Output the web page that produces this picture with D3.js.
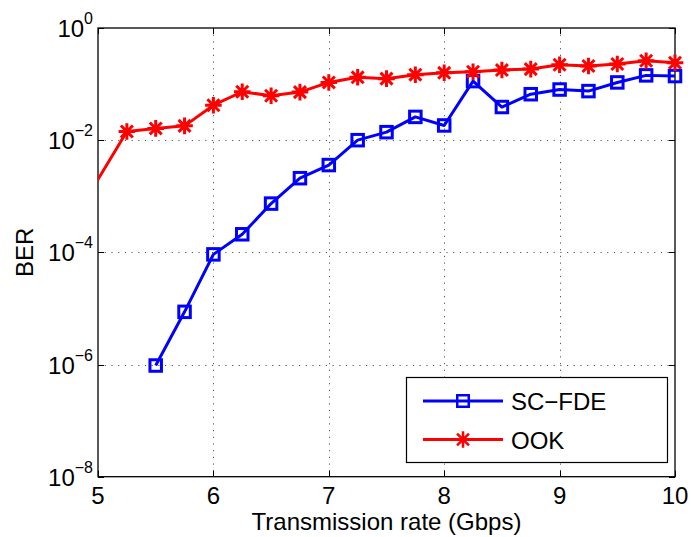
<!DOCTYPE html>
<html>
<head>
<meta charset="utf-8">
<script src="https://cdn.jsdelivr.net/npm/d3@7"></script>
<style>
  html, body { margin: 0; padding: 0; background: #fff; }
  svg { display: block; font-family: "Liberation Sans", Arial, Helvetica, sans-serif; }
</style>
</head>
<body>
<svg id="chart" width="691" height="537"></svg>
<script>
// ---- data ----
const xTicks = [5, 6, 7, 8, 9, 10];
const yTickExponents = [0, -2, -4, -6, -8];

const scfdeRate = [5.5, 5.75, 6, 6.25, 6.5, 6.75, 7, 7.25, 7.5, 7.75, 8, 8.25, 8.5, 8.75, 9, 9.25, 9.5, 9.75, 10];
const scfdeBER  = [9.6e-7, 8.7e-6, 9.2e-5, 2.1e-4, 7.4e-4, 2.1e-3, 3.6e-3, 1.0e-2, 1.39e-2, 2.6e-2, 1.83e-2, 0.113, 3.9e-2, 6.6e-2, 8.0e-2, 7.5e-2, 0.107, 0.143, 0.139];

const ookRate = [4.75, 5.25, 5.5, 5.75, 6, 6.25, 6.5, 6.75, 7, 7.25, 7.5, 7.75, 8, 8.25, 8.5, 8.75, 9, 9.25, 9.5, 9.75, 10];
const ookBER  = [2.8e-4, 1.43e-2, 1.62e-2, 1.8e-2, 4.2e-2, 7.3e-2, 6.2e-2, 7.2e-2, 0.107, 0.132, 0.125, 0.147, 0.159, 0.166, 0.178, 0.185, 0.221, 0.21, 0.228, 0.261, 0.24];

const seriesNames = ["SC\u2212FDE", "OOK"];
const xLabel = "Transmission rate (Gbps)";
const yLabel = "BER";

(function () {
// ---- layout ----
const pLeft = 98, pRight = 675, pTop = 28, pBottom = 476.7;
const svg = d3.select("#chart");
const x = d3.scaleLinear().domain([5, 10]).range([pLeft, pRight]);
const y = d3.scaleLog().domain([1e-8, 1]).range([pBottom, pTop]);

svg.append("rect").attr("x", 0).attr("y", 0).attr("width", 691).attr("height", 537).attr("fill", "#fff");

svg.append("defs").append("clipPath").attr("id", "plotclip")
  .append("rect").attr("x", pLeft).attr("y", pTop).attr("width", pRight - pLeft).attr("height", pBottom - pTop);

// grid
const grid = svg.append("g").attr("stroke", "#555").attr("stroke-width", 1).attr("stroke-dasharray", "1.2,5.5");
grid.selectAll(".gx").data(xTicks.filter(d => d > 5 && d < 10)).join("line")
  .attr("x1", d => Math.round(x(d)) + 0.5).attr("x2", d => Math.round(x(d)) + 0.5)
  .attr("y1", pTop).attr("y2", pBottom);
grid.selectAll(".gy").data(yTickExponents.filter(e => e < 0 && e > -8)).join("line")
  .attr("y1", e => Math.round(y(Math.pow(10, e))) + 0.5).attr("y2", e => Math.round(y(Math.pow(10, e))) + 0.5)
  .attr("x1", pLeft).attr("x2", pRight);

// ticks (inward, all sides)
const tickLen = 6;
const ticks = svg.append("g").attr("stroke", "#000").attr("stroke-width", 1);
xTicks.forEach(d => {
  const px = Math.round(x(d)) + 0.5;
  ticks.append("line").attr("x1", px).attr("x2", px).attr("y1", pBottom).attr("y2", pBottom - tickLen);
  ticks.append("line").attr("x1", px).attr("x2", px).attr("y1", pTop).attr("y2", pTop + tickLen);
});
yTickExponents.forEach(e => {
  const py = Math.round(y(Math.pow(10, e))) + 0.5;
  ticks.append("line").attr("y1", py).attr("y2", py).attr("x1", pLeft).attr("x2", pLeft + tickLen);
  ticks.append("line").attr("y1", py).attr("y2", py).attr("x1", pRight).attr("x2", pRight - tickLen);
});

// box
svg.append("rect").attr("x", pLeft).attr("y", pTop).attr("width", pRight - pLeft).attr("height", pBottom - pTop)
  .attr("fill", "none").attr("stroke", "#000").attr("stroke-width", 1.3);

// tick labels
svg.append("g").selectAll("text").data(xTicks).join("text")
  .attr("x", d => x(d)).attr("y", pBottom + 27)
  .attr("text-anchor", "middle").attr("font-size", 24).text(d => d);

const yl = svg.append("g").selectAll("text").data(yTickExponents).join("text")
  .attr("x", pLeft - 5).attr("y", e => y(Math.pow(10, e)) + 9)
  .attr("text-anchor", "end").attr("font-size", 24);
yl.append("tspan").text("10");
yl.append("tspan").attr("font-size", 16).attr("dy", -13).text(e => e < 0 ? "\u2212" + Math.abs(e) : String(e));

// axis labels
svg.append("text").attr("x", (pLeft + pRight) / 2).attr("y", 529.5)
  .attr("text-anchor", "middle").attr("font-size", 24).text(xLabel);
svg.append("text").attr("transform", `translate(32.5,${(pTop + pBottom) / 2}) rotate(-90)`)
  .attr("text-anchor", "middle").attr("font-size", 24).text(yLabel);

// marker shapes
const sq = 11.5, ar = 8.3, ad = ar * 0.72;
const asteriskPath = `M${-ar},0L${ar},0M0,${-ar}L0,${ar}M${-ad},${-ad}L${ad},${ad}M${-ad},${ad}L${ad},${-ad}`;

const line = d3.line().x(d => x(d[0])).y(d => y(d[1]));

function drawSeries(rates, bers, color, marker) {
  const pts = rates.map((r, i) => [r, bers[i]]);
  svg.append("path").datum(pts).attr("d", line)
    .attr("fill", "none").attr("stroke", color).attr("stroke-width", 3)
    .attr("stroke-linejoin", "round").attr("clip-path", "url(#plotclip)");
  const inside = pts.filter(p => p[0] >= 5 && p[0] <= 10);
  const g = svg.append("g");
  if (marker === "square") {
    g.selectAll("rect").data(inside).join("rect")
      .attr("x", d => x(d[0]) - sq / 2).attr("y", d => y(d[1]) - sq / 2)
      .attr("width", sq).attr("height", sq)
      .attr("fill", "none").attr("stroke", color).attr("stroke-width", 3);
  } else {
    g.selectAll("path").data(inside).join("path")
      .attr("transform", d => `translate(${x(d[0])},${y(d[1])})`)
      .attr("d", asteriskPath).attr("fill", "none").attr("stroke", color).attr("stroke-width", 3);
  }
}
drawSeries(scfdeRate, scfdeBER, "#0000ff", "square");
drawSeries(ookRate, ookBER, "#ff0000", "asterisk");

// legend
const lg = svg.append("g");
lg.append("rect").attr("x", 406.5).attr("y", 377.5).attr("width", 261).attr("height", 85)
  .attr("fill", "#fff").attr("stroke", "#000").attr("stroke-width", 1.2);
const legendItems = [
  { name: seriesNames[0], color: "#0000ff", marker: "square", yy: 401 },
  { name: seriesNames[1], color: "#ff0000", marker: "asterisk", yy: 439.5 }
];
legendItems.forEach(it => {
  lg.append("line").attr("x1", 423).attr("x2", 503).attr("y1", it.yy).attr("y2", it.yy)
    .attr("stroke", it.color).attr("stroke-width", 3);
  if (it.marker === "square") {
    lg.append("rect").attr("x", 463 - sq / 2).attr("y", it.yy - sq / 2).attr("width", sq).attr("height", sq)
      .attr("fill", "none").attr("stroke", it.color).attr("stroke-width", 2.5);
  } else {
    lg.append("path").attr("transform", `translate(463,${it.yy})`).attr("d", asteriskPath)
      .attr("fill", "none").attr("stroke", it.color).attr("stroke-width", 2.5);
  }
  lg.append("text").attr("x", 511).attr("y", it.yy + 9).attr("font-size", 24).text(it.name);
});
})();
</script>
</body>
</html>
